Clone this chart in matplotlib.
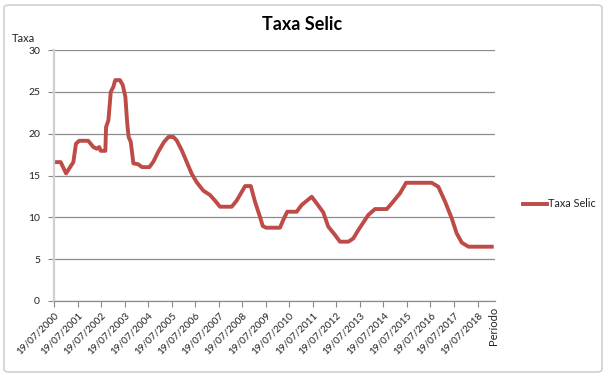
import matplotlib
matplotlib.use("Agg")
import matplotlib.pyplot as plt
from matplotlib.patches import FancyBboxPatch

# time in decimal years, value of the Selic rate (% a.a.)
anos = [2000.55, 2000.83, 2001.06, 2001.37, 2001.48, 2001.62, 2002.00, 2002.22,
        2002.36, 2002.47, 2002.53, 2002.73, 2002.76, 2002.86, 2002.96, 2003.07,
        2003.15, 2003.35, 2003.47, 2003.58, 2003.66, 2003.72, 2003.81, 2003.92,
        2004.12, 2004.29, 2004.60, 2004.77, 2004.98, 2005.22, 2005.41, 2005.62,
        2005.76, 2005.98, 2006.19, 2006.40, 2006.61, 2006.89, 2007.18, 2007.39,
        2007.60, 2008.10, 2008.31, 2008.53, 2008.67, 2008.91, 2009.09, 2009.30,
        2009.42, 2009.56, 2010.15, 2010.32, 2010.46, 2010.86, 2011.07, 2011.29,
        2011.50, 2011.71, 2011.99, 2012.20, 2012.49, 2012.70, 2013.06, 2013.27,
        2013.48, 2013.90, 2014.19, 2014.69, 2014.90, 2015.25, 2015.51, 2016.60,
        2016.88, 2017.17, 2017.45, 2017.66, 2017.88, 2018.16, 2019.15]
selic = [16.6, 16.6, 15.25, 16.6, 18.8, 19.15, 19.15, 18.4,
         18.2, 18.4, 17.95, 17.95, 20.8, 21.6, 25.0, 25.6,
         26.4, 26.4, 25.8, 24.4, 21.2, 19.6, 19.0, 16.45,
         16.35, 16.0, 16.0, 16.65, 17.85, 19.0, 19.6, 19.6,
         19.2, 18.0, 16.6, 15.2, 14.2, 13.2, 12.66, 12.0,
         11.27, 11.27, 12.0, 13.06, 13.74, 13.74, 11.86, 10.07,
         8.96, 8.76, 8.76, 9.88, 10.67, 10.67, 11.47, 11.98,
         12.46, 11.67, 10.6, 8.9, 7.89, 7.09, 7.09, 7.49,
         8.48, 10.27, 10.99, 10.99, 11.67, 12.87, 14.13, 14.13,
         13.66, 11.86, 9.88, 8.09, 6.97, 6.49, 6.49]

tick_pos = [2000.547 + k for k in range(19)]
tick_labels = ["19/07/%d" % (2000 + k) for k in range(19)]

plt.rcParams['font.family'] = ['Lato', 'DejaVu Sans']

W, H = 607, 376
fig = plt.figure(figsize=(W / 100, H / 100), dpi=100)

# chart border
border = FancyBboxPatch((4 / W, 4 / H), 598 / W, 367 / H,
                        boxstyle="round,pad=0,rounding_size=0.008",
                        transform=fig.transFigure, facecolor='none',
                        edgecolor='#D0D0D0', linewidth=1.2, zorder=-1)
fig.patches.append(border)

ax = fig.add_axes([54 / W, (H - 301) / H, (495 - 54) / W, (301 - 50) / H])
ax.set_facecolor('none')

ax.plot(anos, selic, color='#BE4B48', linewidth=2.8, solid_joinstyle='round',
        label='Taxa Selic')

ax.set_xlim(2000.547, 2000.547 + (495 - 54) / 23.53)
ax.set_ylim(0, 30)
ax.set_yticks(range(0, 31, 5))
ax.set_xticks(tick_pos)
ax.set_xticklabels(tick_labels, rotation=45, ha='right', rotation_mode='anchor',
                   fontsize=7.2, color='#222222')
ax.tick_params(axis='y', labelsize=7.5, labelcolor='#222222', length=4,
               color='#888888', pad=6)
ax.tick_params(axis='x', length=4, color='#888888', pad=3)

ax.grid(axis='y', color='#8C8C8C', linewidth=0.9)
ax.set_axisbelow(True)
for s in ['top', 'right']:
    ax.spines[s].set_visible(False)
ax.spines['left'].set_color('#D0D0D0')
ax.spines['left'].set_linewidth(1.6)
ax.spines['bottom'].set_color('#8C8C8C')
ax.spines['bottom'].set_linewidth(0.9)

fig.text(302 / W, 1 - 24 / H, 'Taxa Selic', ha='center', va='center',
         fontsize=13, fontweight='bold', color='black')
fig.text(12 / W, 1 - 39 / H, 'Taxa', ha='left', va='center', fontsize=8,
         color='#222222')
fig.text(493 / W, 1 - 326 / H, 'Período', ha='center', va='center',
         rotation=90, fontsize=8, color='#222222')

fig.legend(loc='center left', bbox_to_anchor=(513 / W, 1 - 204 / H),
           frameon=False, fontsize=7.8, handlelength=2.2, handletextpad=0.15,
           labelcolor='#222222')

fig.savefig('out.png', dpi=100)
